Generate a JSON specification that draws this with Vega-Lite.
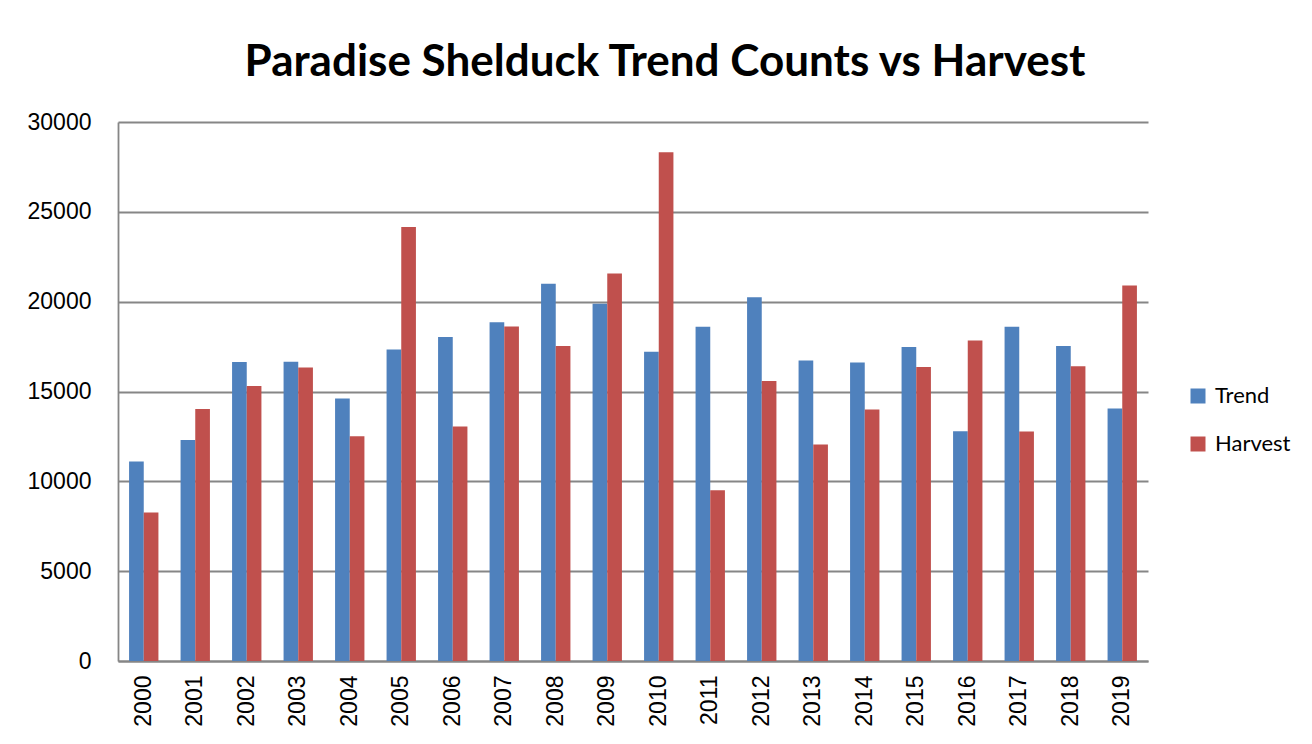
{
  "$schema": "https://vega.github.io/schema/vega-lite/v6.json",
  "width": 1030,
  "height": 539,
  "autosize": {"type": "none"},
  "padding": {"left": 118, "top": 122, "right": 164, "bottom": 83},
  "background": "white",
  "title": {
    "text": "Paradise Shelduck Trend Counts vs Harvest",
    "font": "Lato",
    "fontWeight": "bold",
    "fontSize": 44,
    "color": "black",
    "anchor": "middle",
    "offset": 26,
    "dx": 32
  },
  "data": {
    "values": [
      {"year": "2000", "series": "Trend", "value": 11100},
      {"year": "2000", "series": "Harvest", "value": 8270},
      {"year": "2001", "series": "Trend", "value": 12300},
      {"year": "2001", "series": "Harvest", "value": 14020},
      {"year": "2002", "series": "Trend", "value": 16640},
      {"year": "2002", "series": "Harvest", "value": 15300},
      {"year": "2003", "series": "Trend", "value": 16650},
      {"year": "2003", "series": "Harvest", "value": 16340},
      {"year": "2004", "series": "Trend", "value": 14610},
      {"year": "2004", "series": "Harvest", "value": 12510},
      {"year": "2005", "series": "Trend", "value": 17340},
      {"year": "2005", "series": "Harvest", "value": 24150},
      {"year": "2006", "series": "Trend", "value": 18030},
      {"year": "2006", "series": "Harvest", "value": 13050},
      {"year": "2007", "series": "Trend", "value": 18850},
      {"year": "2007", "series": "Harvest", "value": 18620},
      {"year": "2008", "series": "Trend", "value": 21000},
      {"year": "2008", "series": "Harvest", "value": 17530},
      {"year": "2009", "series": "Trend", "value": 19880},
      {"year": "2009", "series": "Harvest", "value": 21570},
      {"year": "2010", "series": "Trend", "value": 17210},
      {"year": "2010", "series": "Harvest", "value": 28310},
      {"year": "2011", "series": "Trend", "value": 18600},
      {"year": "2011", "series": "Harvest", "value": 9510},
      {"year": "2012", "series": "Trend", "value": 20240},
      {"year": "2012", "series": "Harvest", "value": 15580},
      {"year": "2013", "series": "Trend", "value": 16730},
      {"year": "2013", "series": "Harvest", "value": 12050},
      {"year": "2014", "series": "Trend", "value": 16620},
      {"year": "2014", "series": "Harvest", "value": 14000},
      {"year": "2015", "series": "Trend", "value": 17470},
      {"year": "2015", "series": "Harvest", "value": 16370},
      {"year": "2016", "series": "Trend", "value": 12790},
      {"year": "2016", "series": "Harvest", "value": 17840},
      {"year": "2017", "series": "Trend", "value": 18600},
      {"year": "2017", "series": "Harvest", "value": 12780},
      {"year": "2018", "series": "Trend", "value": 17530},
      {"year": "2018", "series": "Harvest", "value": 16410},
      {"year": "2019", "series": "Trend", "value": 14060},
      {"year": "2019", "series": "Harvest", "value": 20900}
    ]
  },
  "mark": {"type": "bar"},
  "encoding": {
    "x": {
      "field": "year",
      "type": "nominal",
      "title": null,
      "scale": {"paddingInner": 0.43, "paddingOuter": 0.215},
      "axis": {
        "labelAngle": -90,
        "labelFont": "Liberation Sans",
        "labelFontSize": 23,
        "labelColor": "black",
        "labelPadding": 14,
        "ticks": false,
        "domainColor": "#868686",
        "domainWidth": 1.8,
        "grid": false
      }
    },
    "xOffset": {
      "field": "series",
      "type": "nominal",
      "sort": ["Trend", "Harvest"],
      "scale": {"paddingInner": 0, "paddingOuter": 0}
    },
    "y": {
      "field": "value",
      "type": "quantitative",
      "title": null,
      "scale": {"domain": [0, 30000], "nice": false},
      "axis": {
        "values": [0, 5000, 10000, 15000, 20000, 25000, 30000],
        "format": "d",
        "labelFont": "Liberation Sans",
        "labelFontSize": 23,
        "labelColor": "black",
        "labelPadding": 27,
        "ticks": false,
        "domainColor": "#868686",
        "domainWidth": 1.8,
        "grid": true,
        "gridColor": "#868686",
        "gridWidth": 1.8
      }
    },
    "color": {
      "field": "series",
      "type": "nominal",
      "sort": ["Trend", "Harvest"],
      "scale": {"domain": ["Trend", "Harvest"], "range": ["#4F81BD", "#C0504D"]},
      "legend": {
        "title": null,
        "orient": "none",
        "legendX": 1069,
        "legendY": 263,
        "symbolType": "square",
        "symbolSize": 225,
        "symbolStrokeWidth": 0,
        "symbolOpacity": 1,
        "labelFont": "Lato",
        "labelFontSize": 22,
        "labelColor": "black",
        "labelOffset": 6,
        "rowPadding": 26
      }
    }
  },
  "config": {"view": {"stroke": null}}
}
